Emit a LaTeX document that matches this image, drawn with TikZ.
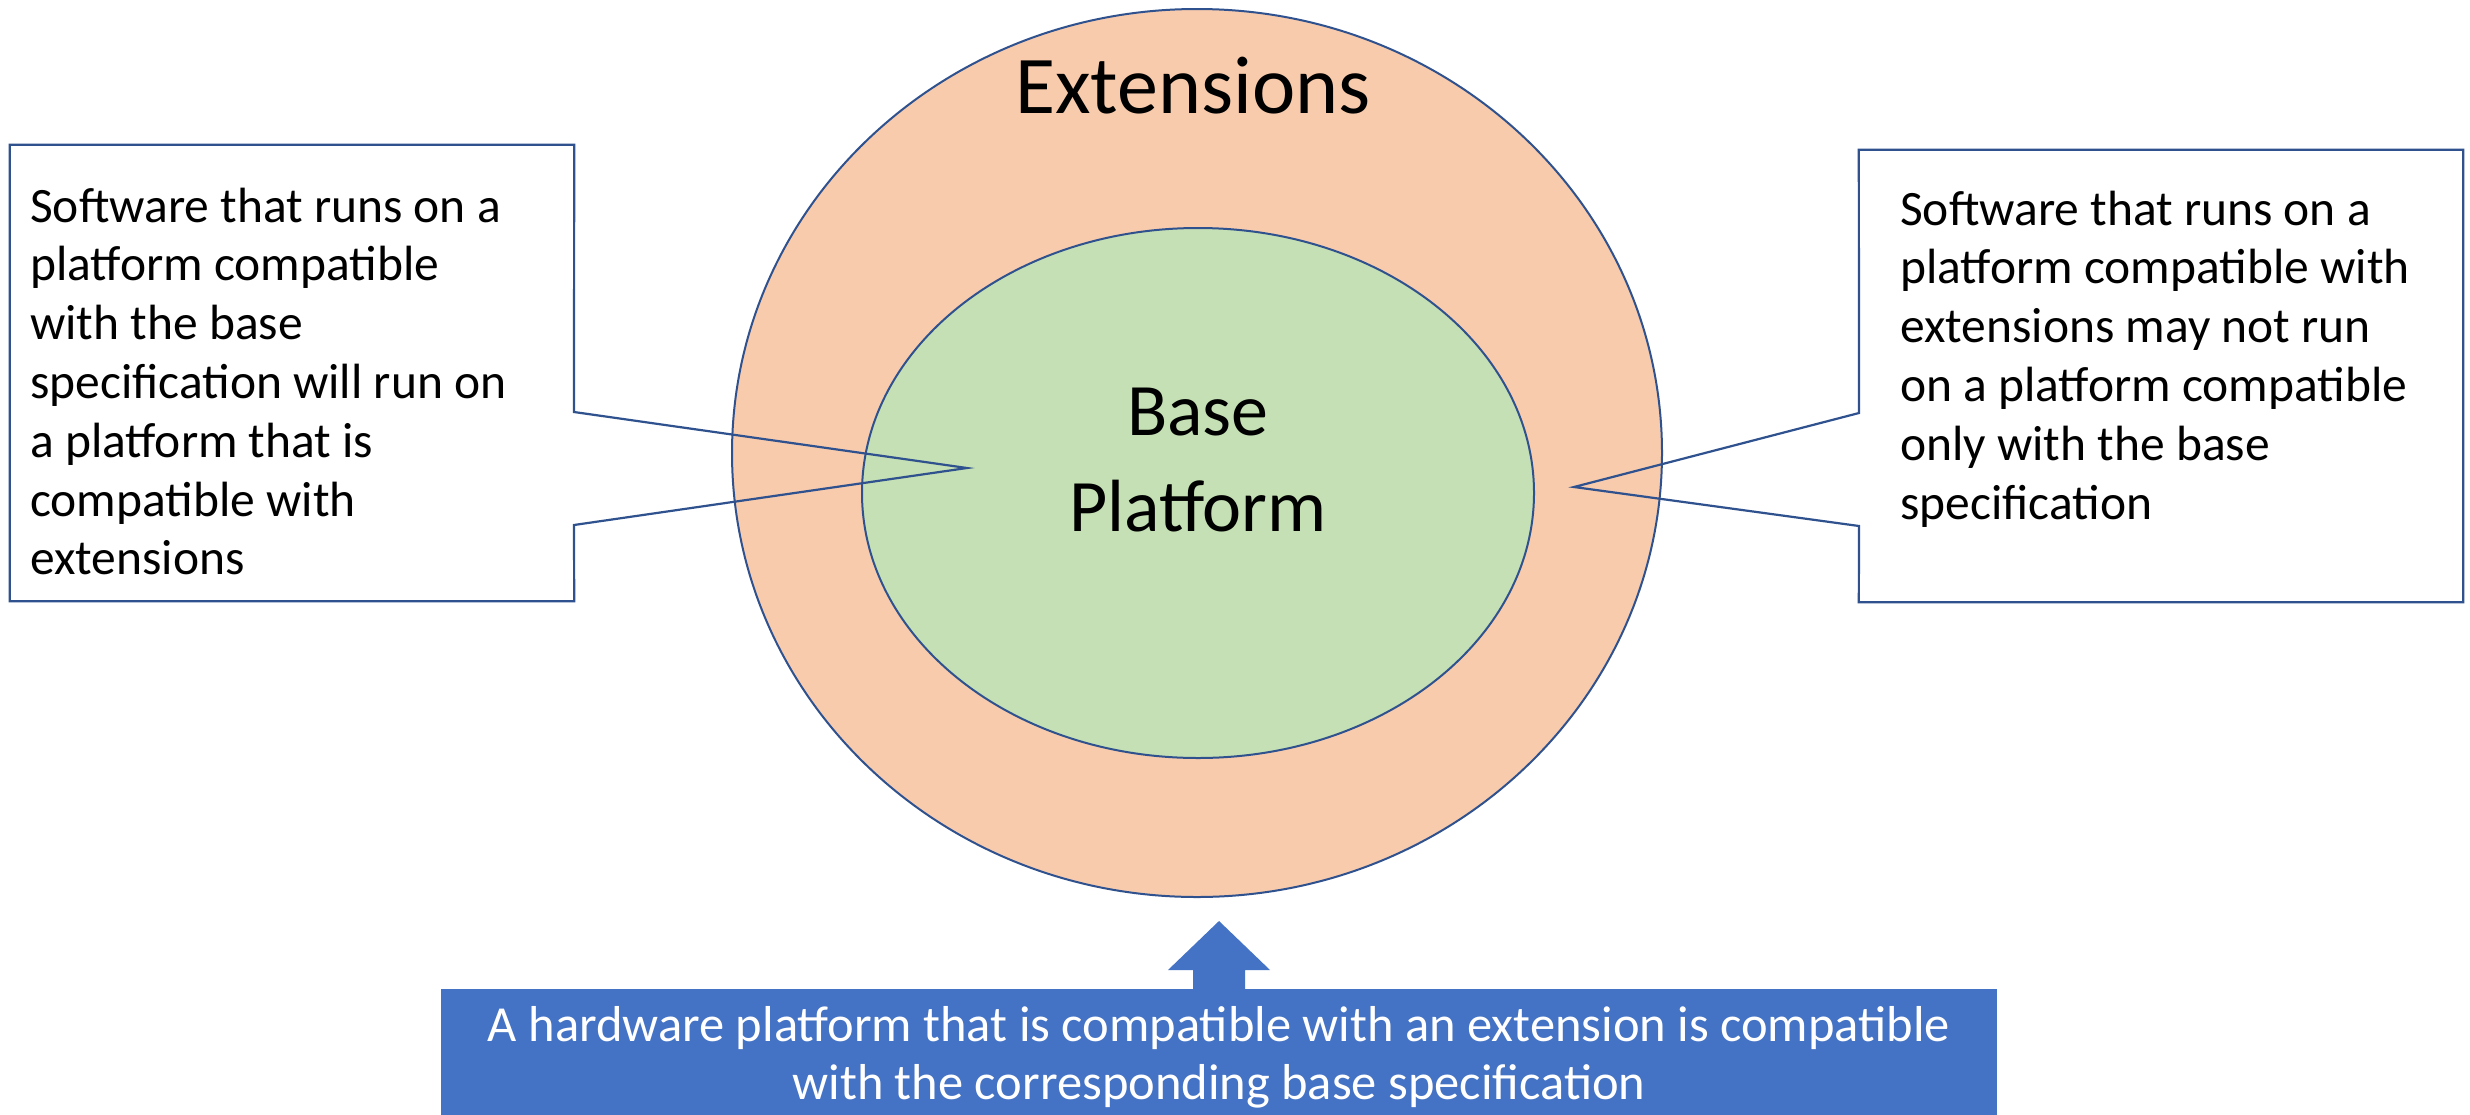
\documentclass[tikz,border=0pt]{standalone}
\usepackage{fontspec}
\setmainfont{Carlito}
\usetikzlibrary{shapes.geometric}
\definecolor{peach}{HTML}{F8CBAD}
\definecolor{leaf}{HTML}{C5E0B4}
\definecolor{officeblue}{HTML}{4472C4}
\definecolor{edgeblue}{HTML}{2F528F}
\begin{document}
\begin{tikzpicture}[x=1pt,y=-1pt,
  ring/.style={ellipse, draw=edgeblue, line width=2pt, inner sep=0pt},
  calloutline/.style={draw=edgeblue, line width=2.2pt, line join=miter},
  bigtext/.style={inner sep=0pt},
  smalltext/.style={font=\fontsize{49.5}{58.8}\selectfont, inner sep=0pt},
  boxtext/.style={font=\fontsize{50.5}{58}\selectfont, inner sep=0pt, text=white}]
\useasboundingbox (0,0) rectangle (2470,1114);
\fill[white] (0,0) rectangle (2470,1114);
% circles
\node[ring, fill=peach, minimum width=930pt, minimum height=888pt] (outer) at (1197,453) {};
\node[ring, fill=leaf, minimum width=672pt, minimum height=530pt] (inner) at (1198,493) {};
\node[bigtext, anchor=base, font=\fontsize{82}{96}\selectfont] (ext) at (1193,113) {Extensions};
\node[bigtext, anchor=base, font=\fontsize{74}{96}\selectfont] (basep) at (1198,435) {\begin{tabular}[t]{@{}c@{}}Base\\Platform\end{tabular}};
% left callout
\node[inner sep=0pt, minimum width=564pt, minimum height=456pt] (lbox) at (292,373) {};
\coordinate (ltip) at (967,468);
\coordinate (lj1) at (574,412);
\coordinate (lj2) at (574,525);
\draw[calloutline] (lbox.north west) -- (lbox.north east) -- (lj1) -- (ltip) -- (lj2) -- (lbox.south east) -- (lbox.south west) -- cycle;
\node[smalltext, anchor=base west] (ltext) at (30,222) {\begin{tabular}[t]{@{}l@{}}Software that runs on a\\platform compatible\\with the base\\specification will run on\\a platform that is\\compatible with\\extensions\end{tabular}};
% right callout
\node[inner sep=0pt, minimum width=604pt, minimum height=452pt] (rbox) at (2161,376) {};
\coordinate (rtip) at (1574,487);
\coordinate (rj1) at (1859,413);
\coordinate (rj2) at (1859,526);
\draw[calloutline] (rbox.north west) -- (rbox.north east) -- (rbox.south east) -- (rbox.south west) -- (rj2) -- (rtip) -- (rj1) -- cycle;
\node[smalltext, anchor=base west] (rtext) at (1900,225) {\begin{tabular}[t]{@{}l@{}}Software that runs on a\\platform compatible with\\extensions may not run\\on a platform compatible\\only with the base\\specification\end{tabular}};
% bottom arrow callout
\node[fill=officeblue, inner sep=0pt, minimum width=1556pt, minimum height=130pt] (hbox) at (1219,1054) {};
\coordinate (atip) at (1219,921);
\fill[officeblue] (1193,990) -- (1193,970) -- (1168,970) -- (atip) -- (1270,970) -- (1245,970) -- (1245,990) -- cycle;
\node[boxtext, anchor=base] (htext) at (1219,1041) {\begin{tabular}[t]{@{}c@{}}A hardware platform that is compatible with an extension is compatible\\with the corresponding base specification\end{tabular}};
\end{tikzpicture}
\end{document}
